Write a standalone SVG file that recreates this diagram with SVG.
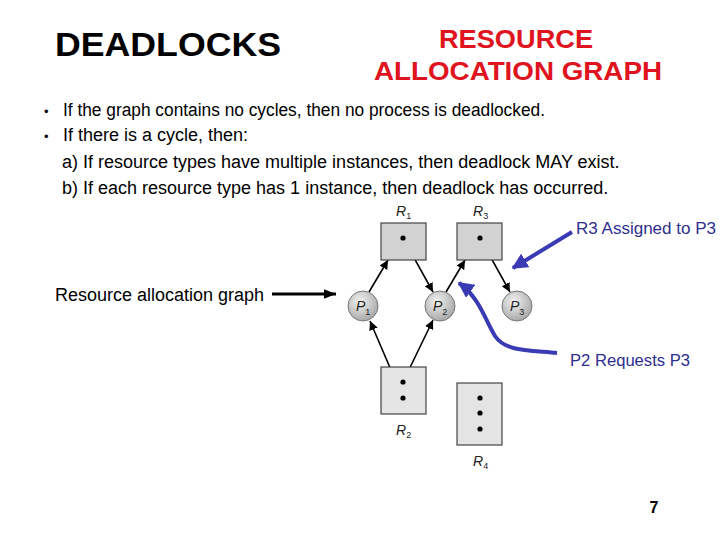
<svg xmlns="http://www.w3.org/2000/svg" width="720" height="540" viewBox="0 0 720 540">
<style>
.t{font-family:"Liberation Sans",Arial,sans-serif;}
.body{font-size:18px;fill:#000;}
.lbl{font-family:"Liberation Sans",Arial,sans-serif;font-style:italic;font-size:14px;fill:#222;}
.sub{font-size:9px;font-style:normal;}
.blue{font-size:16px;fill:#2e2e8f;}
.edge{stroke:#000;stroke-width:1.6;fill:none;marker-end:url(#ah);}
.bedge{stroke:#3a3ab4;stroke-width:4;fill:none;marker-end:url(#bh);}
.res1{fill:#d2d2d2;stroke:#444;stroke-width:1.2;}
.res2{fill:#e4e4e4;stroke:#444;stroke-width:1.2;}
.proc{fill:url(#pg);stroke:#777;stroke-width:1;}
.dot{fill:#000;}
</style>
<defs>
<marker id="ah" viewBox="0 0 10 10" refX="10" refY="5" markerWidth="9" markerHeight="9" markerUnits="userSpaceOnUse" orient="auto"><path d="M0,0 L10,5 L0,10 z" fill="#000"/></marker>
<marker id="bh" viewBox="0 0 10 10" refX="9" refY="5" markerWidth="16" markerHeight="16" markerUnits="userSpaceOnUse" orient="auto"><path d="M0,0 L10,5 L0,10 z" fill="#3a3ab4"/></marker>
<marker id="kh" viewBox="0 0 10 10" refX="10" refY="5" markerWidth="12" markerHeight="12" markerUnits="userSpaceOnUse" orient="auto"><path d="M0,1 L10,5 L0,9 z" fill="#000"/></marker>
<radialGradient id="pg" cx="40%" cy="35%" r="70%"><stop offset="0" stop-color="#f2f2f2"/><stop offset="1" stop-color="#a4a4a4"/></radialGradient>
</defs>

<g id="titles" class="t">
<text x="55" y="56" font-size="34" font-weight="bold" textLength="226" lengthAdjust="spacingAndGlyphs">DEADLOCKS</text>
<text x="516" y="48" font-size="25" font-weight="bold" fill="#e0141e" text-anchor="middle" textLength="154" lengthAdjust="spacingAndGlyphs">RESOURCE</text>
<text x="518" y="80" font-size="25" font-weight="bold" fill="#e0141e" text-anchor="middle" textLength="288" lengthAdjust="spacingAndGlyphs">ALLOCATION GRAPH</text>
</g>

<g id="bullets" class="t body">
<text x="44" y="116" font-size="13">•</text>
<text x="63" y="116" textLength="482" lengthAdjust="spacingAndGlyphs">If the graph contains no cycles, then no process is deadlocked.</text>
<text x="44" y="141" font-size="13">•</text>
<text x="63" y="141">If there is a cycle, then:</text>
<text x="62" y="168">a) If resource types have multiple instances, then deadlock MAY exist.</text>
<text x="62" y="194">b) If each resource type has 1 instance, then deadlock has occurred.</text>
</g>

<g id="connectors">
<line class="edge" x1="369" y1="292" x2="388" y2="260"/>
<line class="edge" x1="403" y1="238" x2="433" y2="292"/>
<line class="edge" x1="446" y1="292" x2="465" y2="260"/>
<line class="edge" x1="480" y1="238" x2="510" y2="292"/>
<line class="edge" x1="403" y1="398" x2="370" y2="321"/>
<line class="edge" x1="403" y1="382" x2="433" y2="320"/>
<line stroke="#000" stroke-width="3" x1="272" y1="294" x2="336" y2="294" marker-end="url(#kh)"/>
<line class="bedge" x1="572" y1="232" x2="513" y2="268"/>
<path class="bedge" d="M557,353 C525,350 505,351 495,336 C485,320 480,298 459,283"/>
</g>

<g id="R1">
<rect class="res1" x="381" y="223" width="45" height="37"/>
<circle class="dot" cx="403" cy="238" r="2.6"/>
<text class="lbl" x="396" y="216">R<tspan class="sub" dy="3">1</tspan></text>
</g>
<g id="R3">
<rect class="res1" x="457" y="223" width="45" height="37"/>
<circle class="dot" cx="480" cy="238" r="2.6"/>
<text class="lbl" x="473" y="216">R<tspan class="sub" dy="3">3</tspan></text>
</g>
<g id="R2">
<rect class="res2" x="381" y="367" width="45" height="47"/>
<circle class="dot" cx="403" cy="382" r="2.6"/>
<circle class="dot" cx="403" cy="398" r="2.6"/>
<text class="lbl" x="396" y="435">R<tspan class="sub" dy="3">2</tspan></text>
</g>
<g id="R4">
<rect class="res2" x="457" y="383" width="45" height="62"/>
<circle class="dot" cx="480" cy="398" r="2.6"/>
<circle class="dot" cx="480" cy="413" r="2.6"/>
<circle class="dot" cx="480" cy="429" r="2.6"/>
<text class="lbl" x="473" y="466">R<tspan class="sub" dy="3">4</tspan></text>
</g>
<g id="P1">
<circle class="proc" cx="363" cy="306" r="15"/>
<text class="lbl" x="356" y="311">P<tspan class="sub" dy="4">1</tspan></text>
</g>
<g id="P2">
<circle class="proc" cx="440" cy="306" r="15"/>
<text class="lbl" x="433" y="311">P<tspan class="sub" dy="4">2</tspan></text>
</g>
<g id="P3">
<circle class="proc" cx="517" cy="306" r="15"/>
<text class="lbl" x="510" y="311">P<tspan class="sub" dy="4">3</tspan></text>
</g>

<g id="labels" class="t">
<text class="body" x="55" y="301">Resource allocation graph</text>
<text class="blue" x="576" y="234" textLength="140" lengthAdjust="spacingAndGlyphs">R3 Assigned to P3</text>
<text class="blue" x="570" y="366" textLength="120" lengthAdjust="spacingAndGlyphs">P2 Requests P3</text>
<text x="654" y="513" font-size="16" font-weight="bold" text-anchor="middle">7</text>
</g>
</svg>
